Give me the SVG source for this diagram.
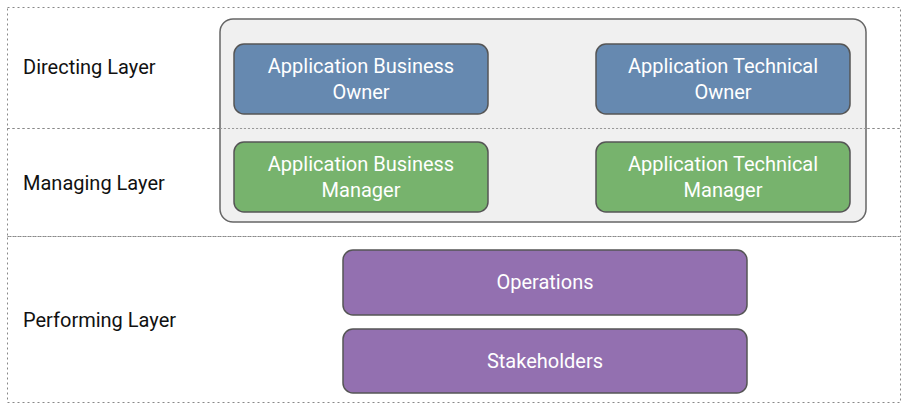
<svg xmlns="http://www.w3.org/2000/svg" width="904" height="404" viewBox="0 0 904 404">
<style>
.layer{fill:none;stroke:#888;stroke-width:1;stroke-dasharray:2,3}
.n{stroke:#555;stroke-width:1.5}
.t{font-family:Roboto,"Liberation Sans",sans-serif;font-size:20px;fill:#fff;text-anchor:middle}
.l{font-family:Roboto,"Liberation Sans",sans-serif;font-size:20px;fill:#111}
</style>
<rect width="904" height="404" fill="#fff"/>
<g id="directing-layer"><rect class="layer" x="7.5" y="7.5" width="893" height="121"/><text class="l" x="23" y="74">Directing Layer</text></g>
<g id="managing-layer"><rect class="layer" x="7.5" y="128.5" width="893" height="108"/><text class="l" x="23" y="190">Managing Layer</text></g>
<g id="performing-layer"><rect class="layer" x="7.5" y="236.5" width="893" height="166"/><text class="l" x="23" y="327">Performing Layer</text></g>
<g id="app-group"><rect x="220" y="19" width="646" height="203" rx="13" fill="#eeeeee" fill-opacity="0.9" stroke="#666" stroke-width="1.5"/></g>
<line x1="220" y1="128.5" x2="866" y2="128.5" stroke="#999" stroke-dasharray="2,2"/>
<g id="abo"><rect class="n" x="234" y="44" width="254" height="70" rx="10" fill="#6689b0"/><text class="t" x="361" y="73">Application Business</text><text class="t" x="361" y="99">Owner</text></g>
<g id="ato"><rect class="n" x="596" y="44" width="254" height="70" rx="10" fill="#6689b0"/><text class="t" x="723" y="73">Application Technical</text><text class="t" x="723" y="99">Owner</text></g>
<g id="abm"><rect class="n" x="234" y="142" width="254" height="70" rx="10" fill="#77b36d"/><text class="t" x="361" y="171">Application Business</text><text class="t" x="361" y="197">Manager</text></g>
<g id="atm"><rect class="n" x="596" y="142" width="254" height="70" rx="10" fill="#77b36d"/><text class="t" x="723" y="171">Application Technical</text><text class="t" x="723" y="197">Manager</text></g>
<g id="operations"><rect class="n" x="343" y="250" width="404" height="65" rx="10" fill="#9370b0"/><text class="t" x="545" y="289">Operations</text></g>
<g id="stakeholders"><rect class="n" x="343" y="329" width="404" height="64" rx="10" fill="#9370b0"/><text class="t" x="545" y="368">Stakeholders</text></g>
<g id="connectors"></g>
</svg>
